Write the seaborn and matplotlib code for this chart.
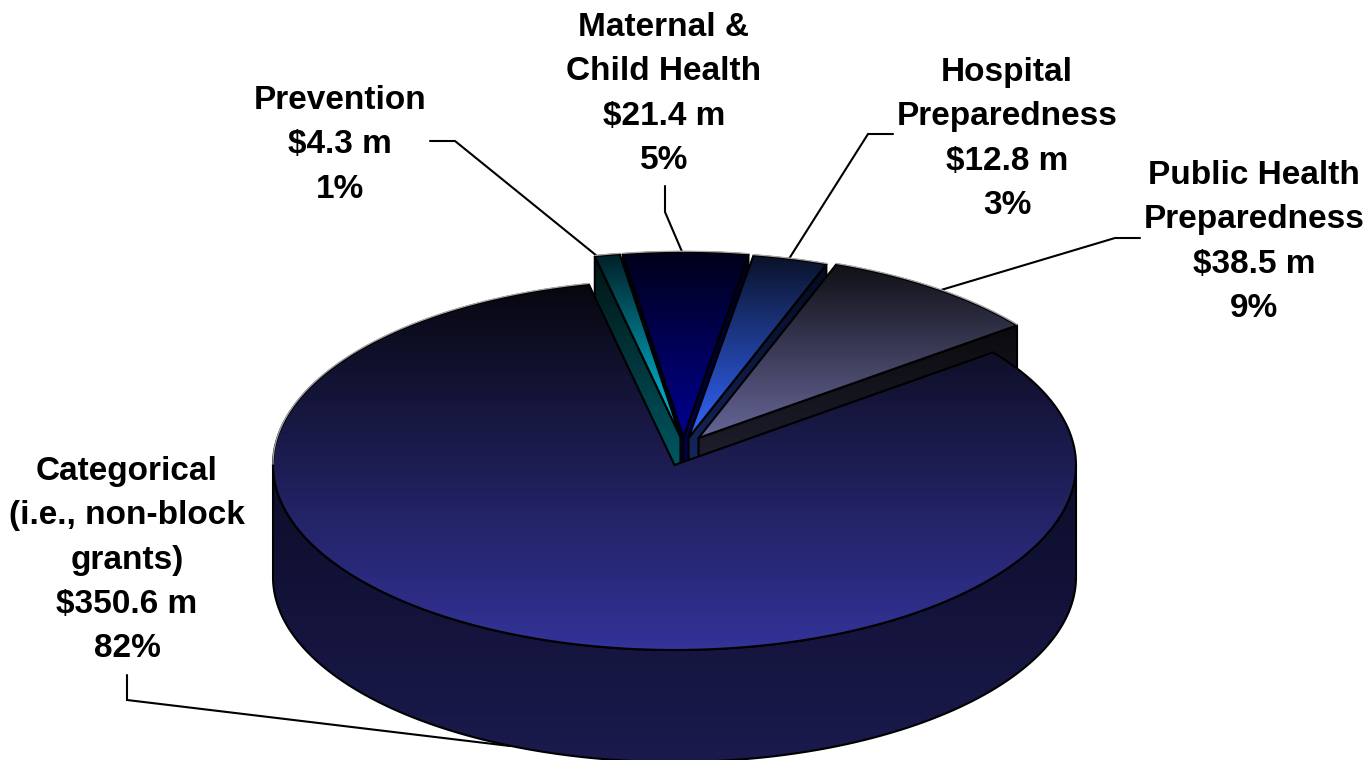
import numpy as np
import matplotlib
matplotlib.use('Agg')
import matplotlib.pyplot as plt
from matplotlib.patches import Polygon
import seaborn as sns

# datos
categories = ['Categorical\n(i.e., non-block\ngrants)', 'Prevention', 'Maternal &\nChild Health',
              'Hospital\nPreparedness', 'Public Health\nPreparedness']
amounts = [350.6, 4.3, 21.4, 12.8, 38.5]
amount_labels = ['$350.6 m', '$4.3 m', '$21.4 m', '$12.8 m', '$38.5 m']
pct_labels = ['82%', '1%', '5%', '3%', '9%']

# layout del pastel (pixeles de la imagen)
CX, CY, RX, RY, DEPTH = 674.5, 465, 401.5, 185, 112
START = 52.5
offsets = [(0, 0), (6, -28), (9, -28), (14, -27), (24, -27)]
top_colors = [('#07070f', '#333399'), ('#012028', '#00cdea'), ('#00001a', '#000092'),
              ('#0a1228', '#3366ff'), ('#101016', '#666699')]
side_colors = [('#0d0d2a', '#1a1a4d'), ('#001414', '#007080'), ('#000018', '#000068'),
               ('#050a20', '#1a3478'), ('#0b0b0e', '#2a2a42')]
draw_order = [2, 1, 3, 4, 0]

label_x = [127, 340, 664, 1007, 1254]
label_y = [560, 145, 94, 139, 242]
leaders = [[(127, 675), (127, 700), (510, 746)],
           [(430, 141), (455, 141), (597, 256)],
           [(665, 186), (665, 212), (683, 254)],
           [(893, 134), (868, 134), (787, 262)],
           [(1140, 238), (1115, 238), (941, 290)]]

sns.set_theme(style='white')
plt.rcParams['font.family'] = ['Liberation Sans', 'DejaVu Sans']

fig = plt.figure(figsize=(13.68, 7.6), dpi=100)
ax = fig.add_axes([0, 0, 1, 1])
ax.set_xlim(0, 1368)
ax.set_ylim(760, 0)
ax.axis('off')


def rim(a0, a1, dx=0, dy=0):
    # angulos en grados, horario desde las 12
    t = np.radians(np.linspace(a0, a1, 240))
    return np.column_stack([CX + dx + RX * np.sin(t), CY + dy - RY * np.cos(t)])


def shaded(points, colors, z):
    # poligono con degradado vertical recortado
    y0, y1 = points[:, 1].min(), points[:, 1].max()
    x0, x1 = points[:, 0].min(), points[:, 0].max()
    cmap = sns.blend_palette(colors, as_cmap=True)
    grad = np.linspace(0, 1, 256).reshape(-1, 1)
    im = ax.imshow(grad, cmap=cmap, extent=(x0, x1, y1, y0), aspect='auto', zorder=z, vmin=0, vmax=1)
    edge = Polygon(points, closed=True, fc='none', ec='black', lw=1.5, zorder=z + 0.1, joinstyle='round')
    ax.add_patch(edge)
    im.set_clip_path(edge)


sweeps = np.array(amounts) / sum(amounts) * 360
starts = START + np.concatenate([[0], np.cumsum(sweeps)[:-1]])

z = 1
for i in draw_order:
    a0, a1 = starts[i], starts[i] + sweeps[i]
    dx, dy = offsets[i]
    apex = np.array([[CX + dx, CY + dy]])
    arc = rim(a0, a1, dx, dy)
    drop = np.array([0, DEPTH])
    if i == 0:
        # pared frontal
        wall = np.vstack([rim(90, 270), rim(270, 90, dy=DEPTH)])
        shaded(wall, side_colors[i], z)
    else:
        # solo las caras de corte que miran al frente
        if a0 % 360 > 180:
            shaded(np.vstack([apex, arc[:1], arc[:1] + drop, apex + drop]), side_colors[i], z)
        if a1 % 360 < 180:
            shaded(np.vstack([apex, arc[-1:], arc[-1:] + drop, apex + drop]), side_colors[i], z + 0.2)
    shaded(np.vstack([apex, arc]), top_colors[i], z + 0.4)
    # brillo del borde trasero
    back = rim(max(a0, 270), a1, dx, dy) if i == 0 else arc
    ax.plot(back[:, 0], back[:, 1] - 0.8, color='#a8a8a8', lw=0.9, zorder=z + 0.6)
    z += 1

for pts in leaders:
    pts = np.array(pts)
    ax.plot(pts[:, 0], pts[:, 1], color='black', lw=1.5, zorder=0.5, solid_joinstyle='miter')

for name, amt, pct, x, y in zip(categories, amount_labels, pct_labels, label_x, label_y):
    ax.text(x, y, f'{name}\n{amt}\n{pct}', ha='center', va='center', ma='center',
            fontsize=24, fontweight='bold', color='black', linespacing=1.56, zorder=20)

fig.savefig('out.png', dpi=100, facecolor='white')
